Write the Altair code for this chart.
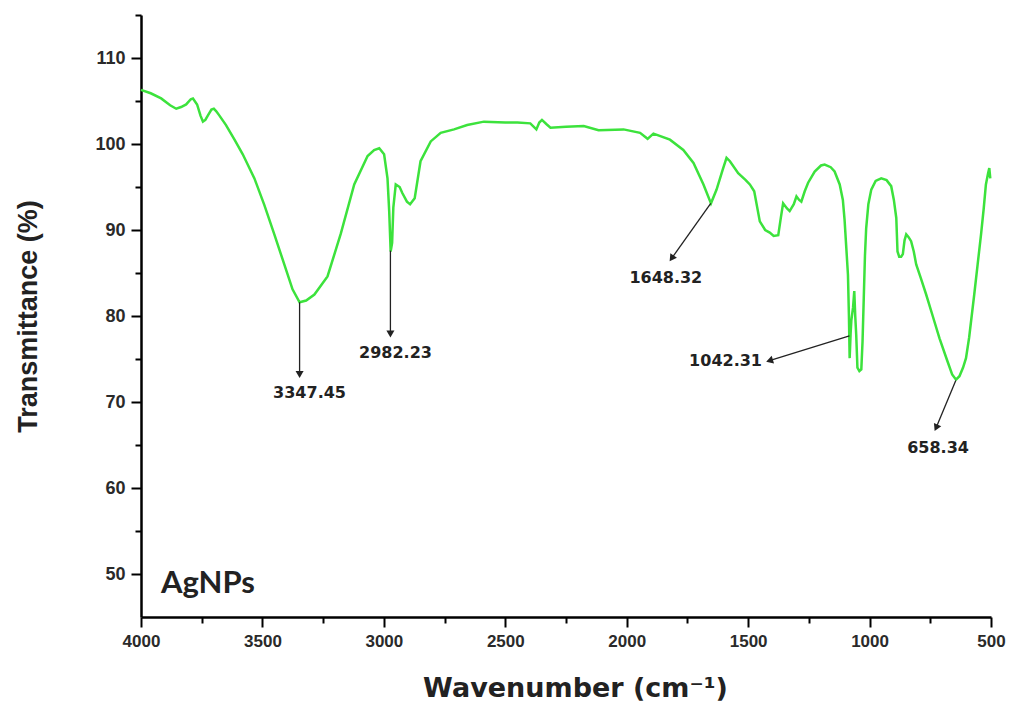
import altair as alt
import pandas as pd

# ---- spectrum ----
wavenumber = [4000, 3960, 3917, 3880, 3855, 3835, 3814, 3795, 3786, 3769, 3755, 3745, 3735, 3725,
              3710, 3700, 3690, 3677, 3650, 3615, 3581, 3533, 3492, 3451, 3410, 3376, 3347, 3320,
              3286, 3232, 3177, 3122, 3067, 3040, 3019, 2999, 2985, 2978, 2972, 2966, 2961, 2951,
              2935, 2924, 2905, 2892, 2873, 2849, 2807, 2766, 2711, 2657, 2588, 2500, 2450, 2397,
              2372, 2360, 2349, 2330, 2314, 2250, 2177, 2116, 2013, 1945, 1914, 1890, 1822, 1767,
              1725, 1684, 1653, 1630, 1605, 1589, 1575, 1541, 1510, 1493, 1475, 1452, 1430, 1411,
              1395, 1376, 1365, 1356, 1340, 1329, 1312, 1301, 1290, 1281, 1267, 1253, 1226, 1200,
              1185, 1160, 1144, 1123, 1110, 1103, 1096, 1089, 1085, 1082, 1078, 1075, 1068, 1063,
              1059, 1055, 1050, 1042, 1034, 1029, 1024, 1019, 1014, 1005, 993, 975, 952, 930, 911,
              900, 890, 885, 878, 870, 863, 856, 849, 840, 829, 818, 808, 790, 767, 740, 712, 680,
              660, 644, 630, 615, 603, 590, 569, 555, 541, 530, 521, 512, 507, 503]
transmittance = [106.3, 105.9, 105.3, 104.5, 104.1, 104.3, 104.6, 105.2, 105.3, 104.6, 103.3, 102.6,
                 102.8, 103.3, 104.0, 104.1, 103.8, 103.3, 102.2, 100.5, 98.8, 96.0, 92.9, 89.5,
                 86.0, 83.1, 81.6, 81.8, 82.5, 84.6, 89.6, 95.3, 98.6, 99.3, 99.5, 98.8, 96.0, 92.2,
                 87.5, 88.5, 92.6, 95.3, 95.0, 94.3, 93.3, 93.0, 93.7, 98.0, 100.3, 101.3, 101.7,
                 102.2, 102.6, 102.5, 102.5, 102.4, 101.7, 102.5, 102.8, 102.3, 101.9, 102.0, 102.1,
                 101.6, 101.7, 101.3, 100.6, 101.2, 100.5, 99.3, 97.8, 95.3, 93.1, 94.7, 97.0, 98.4,
                 98.0, 96.6, 95.8, 95.3, 94.5, 91.0, 90.0, 89.7, 89.3, 89.4, 91.5, 93.1, 92.5, 92.2,
                 93.0, 93.9, 93.5, 93.3, 94.5, 95.5, 96.8, 97.5, 97.6, 97.3, 96.8, 95.3, 93.5, 91.2,
                 88.0, 84.8, 80.0, 75.1, 78.0, 79.5, 81.0, 82.9, 80.0, 77.8, 74.0, 73.6, 73.8, 77.0,
                 82.0, 87.0, 90.2, 93.0, 94.7, 95.7, 96.0, 95.8, 95.1, 93.5, 91.4, 87.5, 86.9, 86.9,
                 87.2, 88.8, 89.5, 89.2, 88.7, 87.5, 86.0, 84.5, 82.5, 80.0, 77.4, 74.8, 73.2, 72.6,
                 73.0, 74.0, 75.1, 77.5, 82.5, 86.0, 89.5, 92.5, 95.3, 96.6, 97.2, 96.0]

# ---- peak annotations ----
peak_text = ["3347.45", "2982.23", "1648.32", "1042.31", "658.34"]
arrow_from_w = [3347, 2973, 1654, 1083, 645]
arrow_from_t = [81.6, 87.6, 93.1, 77.7, 72.5]
arrow_to_w = [3347, 2973, 1815, 1412, 726]
arrow_to_t = [73.2, 77.9, 86.7, 74.8, 67.0]
arrow_angle = [180, 180, 215, 253, 205]
label_w = [3306, 2952, 1839, 1593, 718]
label_t = [71.0, 75.7, 84.4, 74.8, 64.7]

sample_name = ["AgNPs"]
sample_w = [3918]
sample_t = [47.8]

x_ticks = list(range(500, 4001, 250))
y_ticks = list(range(50, 116, 5))

spec = pd.DataFrame({"w": wavenumber, "t": transmittance})
ann = pd.DataFrame({"txt": peak_text, "w0": arrow_from_w, "t0": arrow_from_t,
                    "w1": arrow_to_w, "t1": arrow_to_t, "ang": arrow_angle,
                    "lw": label_w, "lt": label_t})
samp = pd.DataFrame({"name": sample_name, "w": sample_w, "t": sample_t})

xs = alt.Scale(domain=[500, 4000], reverse=True, nice=False, zero=False)
ys = alt.Scale(domain=[45, 115], nice=False, zero=False)

LABEL_FONT = "Liberation Sans"

x_axis = alt.Axis(
    values=x_ticks, format="d",
    labelExpr="datum.value % 500 === 0 ? datum.label : ''",
    labelFlush=False, labelOverlap=False,
    tickSize={"condition": {"test": "datum.value % 500 === 0", "value": 10}, "value": 6},
    tickWidth=2, tickColor="black", domainColor="black", domainWidth=2.5,
    labelFont=LABEL_FONT, labelFontSize=17, labelFontWeight="bold", labelColor="#2a2a2a",
    labelPadding=6, grid=False,
    title="Wavenumber (cm⁻¹)", titleFont="DejaVu Sans", titleFontSize=27,
    titleFontWeight="bold", titleColor="#222", titleX=434, titleY=71,
    titleBaseline="middle", titleAlign="center",
)
y_axis = alt.Axis(
    values=y_ticks, format="d",
    labelExpr="datum.value % 10 === 0 ? datum.label : ''",
    labelFlush=False, labelOverlap=False,
    tickSize={"condition": {"test": "datum.value % 10 === 0", "value": 10}, "value": 6},
    tickWidth=2, tickColor="black", domainColor="black", domainWidth=2.5,
    labelFont=LABEL_FONT, labelFontSize=18, labelFontWeight="bold", labelColor="#2a2a2a",
    labelPadding=6, grid=False,
    title="Transmittance (%)", titleFont=LABEL_FONT, titleFontSize=27,
    titleFontWeight="bold", titleColor="#222", titleAngle=270, titleX=-113, titleY=301,
    titleBaseline="middle", titleAlign="center",
)

line = alt.Chart(spec).mark_line(color="#3ce23c", strokeWidth=2.5).encode(
    x=alt.X("w:Q", scale=xs, axis=x_axis),
    y=alt.Y("t:Q", scale=ys, axis=y_axis),
)

arrows = alt.Chart(ann).mark_rule(color="#222", strokeWidth=1.3).encode(
    x=alt.X("w0:Q", scale=xs), y=alt.Y("t0:Q", scale=ys),
    x2="w1:Q", y2="t1:Q",
)

heads = alt.Chart(ann).mark_point(shape="triangle-up", filled=True, color="#222",
                                  size=65, opacity=1).encode(
    x=alt.X("w1:Q", scale=xs), y=alt.Y("t1:Q", scale=ys),
    angle=alt.Angle("ang:Q", scale=None),
)

labels = alt.Chart(ann).mark_text(font="DejaVu Sans", fontSize=16, fontWeight="bold",
                                  color="#222", align="center", baseline="middle").encode(
    x=alt.X("lw:Q", scale=xs), y=alt.Y("lt:Q", scale=ys),
    text="txt:N",
)

sample = alt.Chart(samp).mark_text(font="Lato", fontSize=31, fontWeight="bold",
                                   color="#222", align="left", baseline="alphabetic").encode(
    x=alt.X("w:Q", scale=xs), y=alt.Y("t:Q", scale=ys),
    text="name:N",
)

chart = alt.layer(line, arrows, heads, labels, sample).properties(
    width=850, height=602,
    autosize=alt.AutoSizeParams(type="none"),
    padding={"left": 133, "top": 7, "right": 17, "bottom": 85},
).configure_view(stroke=None)

chart.save("out.html", embed_options={"renderer": "svg", "actions": False})
